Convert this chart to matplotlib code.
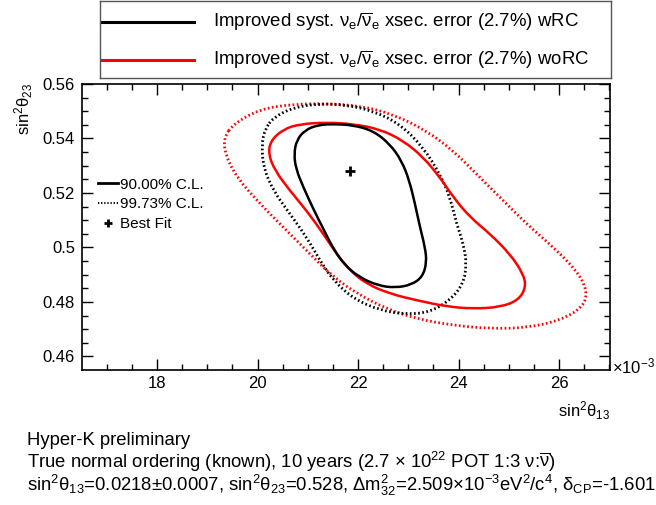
import numpy as np
import matplotlib
matplotlib.use("Agg")
import matplotlib.pyplot as plt
from matplotlib.lines import Line2D
from matplotlib.path import Path
from matplotlib.patches import PathPatch
from matplotlib.ticker import MultipleLocator, FuncFormatter

plt.rcParams["font.family"] = ["Liberation Sans", "DejaVu Sans"]
plt.rcParams["mathtext.fontset"] = "custom"
plt.rcParams["mathtext.rm"] = "Liberation Sans"
plt.rcParams["mathtext.it"] = "Liberation Sans"
plt.rcParams["mathtext.bf"] = "Liberation Sans:bold"

# sin^2(theta13) in units of 1e-3, sin^2(theta23)
wrc90_x = [21.509, 21.907, 22.305, 22.637, 22.869, 23.022, 23.134, 23.234, 23.333,
           23.367, 23.287, 23.068, 22.736, 22.405, 22.040, 21.741, 21.509, 21.310,
           21.111, 20.912, 20.766, 20.726, 20.779, 20.945, 21.211]
wrc90_y = [0.5453, 0.5449, 0.5428, 0.5379, 0.5318, 0.5245, 0.5160, 0.5074, 0.5001,
           0.4946, 0.4893, 0.4863, 0.4852, 0.4860, 0.4889, 0.4934, 0.4995, 0.5068,
           0.5141, 0.5221, 0.5288, 0.5343, 0.5394, 0.5431, 0.5450]

worc90_x = [20.514, 20.846, 21.376, 21.907, 22.438, 22.902, 23.300, 23.632, 23.897,
            24.229, 24.627, 25.025, 25.290, 25.343, 25.191, 24.826, 24.295, 23.764,
            23.167, 22.637, 22.172, 21.841, 21.575, 21.310, 20.978, 20.647, 20.348,
            20.216, 20.262]
worc90_y = [0.5434, 0.5453, 0.5459, 0.5453, 0.5434, 0.5392, 0.5331, 0.5257, 0.5184,
            0.5111, 0.5050, 0.4976, 0.4903, 0.4854, 0.4806, 0.4781, 0.4775, 0.4783,
            0.4806, 0.4830, 0.4866, 0.4915, 0.4976, 0.5050, 0.5135, 0.5208, 0.5282,
            0.5343, 0.5392]

wrc997_x = [20.315, 20.713, 21.244, 21.774, 22.305, 22.836, 23.300, 23.632, 23.831,
            23.964, 24.096, 24.163, 24.096, 23.831, 23.433, 22.968, 22.438, 21.907,
            21.509, 21.244, 20.978, 20.647, 20.315, 20.116, 20.083, 20.149]
wrc997_y = [0.5477, 0.5514, 0.5528, 0.5523, 0.5501, 0.5453, 0.5367, 0.5269, 0.5184,
            0.5086, 0.5013, 0.4940, 0.4866, 0.4806, 0.4763, 0.4754, 0.4769, 0.4812,
            0.4879, 0.4952, 0.5037, 0.5123, 0.5208, 0.5294, 0.5379, 0.5434]

worc997_x = [19.519, 20.050, 20.713, 21.376, 22.040, 22.703, 23.366, 23.897, 24.361,
             24.826, 25.357, 25.887, 26.352, 26.564, 26.484, 26.020, 25.357, 24.627,
             23.897, 23.167, 22.571, 22.040, 21.509, 21.045, 20.580, 20.050, 19.586,
             19.353, 19.333]
worc997_y = [0.5453, 0.5508, 0.5526, 0.5528, 0.5520, 0.5489, 0.5428, 0.5355, 0.5269,
             0.5184, 0.5086, 0.5001, 0.4915, 0.4842, 0.4781, 0.4732, 0.4705, 0.4702,
             0.4714, 0.4738, 0.4775, 0.4824, 0.4891, 0.4976, 0.5062, 0.5160, 0.5257,
             0.5343, 0.5404]

best_x = 21.85
best_y = 0.528

DOT = (0, (0.6, 0.9))


def smooth_loop(ax, xs, ys, **kw):
    # closed quadratic bezier path, read points used as control points
    p = np.column_stack([xs, ys])
    mids = (p + np.roll(p, -1, axis=0)) / 2
    verts = [mids[-1]]
    codes = [Path.MOVETO]
    for i in range(len(p)):
        verts += [p[i], mids[i]]
        codes += [Path.CURVE3, Path.CURVE3]
    ax.add_patch(PathPatch(Path(verts, codes), fill=False, **kw))


fig = plt.figure(figsize=(6.56, 5.05), dpi=100)
W, H = 656.0, 505.0

# main frame
ax = fig.add_axes([82 / W, 1 - 369.5 / H, 528 / W, 285.5 / H])
smooth_loop(ax, worc997_x, worc997_y, edgecolor="#ff0000", lw=2.0, ls=DOT)
smooth_loop(ax, wrc997_x, wrc997_y, edgecolor="black", lw=2.0, ls=DOT)
smooth_loop(ax, worc90_x, worc90_y, edgecolor="#ff0000", lw=1.8)
smooth_loop(ax, wrc90_x, wrc90_y, edgecolor="black", lw=1.8)
ax.plot([best_x], [best_y], marker="+", color="black", ms=7, mew=2, ls="none")

ax.set_xlim(16.507, 27.015)
ax.set_ylim(0.4552, 0.5600)
ax.xaxis.set_major_locator(MultipleLocator(2))
ax.xaxis.set_minor_locator(MultipleLocator(0.5))
ax.yaxis.set_major_locator(MultipleLocator(0.02))
ax.yaxis.set_minor_locator(MultipleLocator(0.005))
ax.yaxis.set_major_formatter(FuncFormatter(lambda v, p: "%g" % round(v, 3)))
ax.xaxis.set_major_formatter(FuncFormatter(lambda v, p: "%g" % v))
ax.tick_params(which="both", direction="in", top=True, right=True, width=1.0,
               labelsize=12)
ax.tick_params(which="major", length=8, pad=5)
ax.tick_params(which="minor", length=4)
for s in ax.spines.values():
    s.set_linewidth(1.2)

handles = [Line2D([], [], color="black", lw=2),
           Line2D([], [], color="black", lw=1.5, ls=DOT),
           Line2D([], [], color="black", marker="+", ms=6, mew=2, ls="none")]
ax.legend(handles, ["90.00% C.L.", "99.73% C.L.", "Best Fit"], loc="upper left",
          bbox_to_anchor=(0.03, 0.672), frameon=False, fontsize=11,
          handlelength=1.3, handletextpad=0.15, labelspacing=0.38, borderpad=0,
          borderaxespad=0)

# axis titles
fig.text(610 / W, 1 - 417 / H, r"sin$^{2}$θ$_{13}$", ha="right", va="baseline", fontsize=12)
fig.text(24 / W, 1 - 83 / H, r"sin$^{2}$θ$_{23}$", ha="center", va="top",
         rotation=90, fontsize=12)
fig.text(612 / W, 1 - 366 / H, r"$\times$10$^{-3}$", ha="left", va="center", fontsize=12)

# top legend box
lax = fig.add_axes([100 / W, 1 - 78 / H, 511 / W, 77 / H])
lax.set_xlim(0, 511)
lax.set_ylim(77, 0)
lax.set_xticks([])
lax.set_yticks([])
for s in lax.spines.values():
    s.set_linewidth(1.0)
    s.set_color("#555555")
labels_top = [r"Improved syst. ν$_{e}$/$\overline{\nu}_{e}$ xsec. error (2.7%) wRC",
              r"Improved syst. ν$_{e}$/$\overline{\nu}_{e}$ xsec. error (2.7%) woRC"]
colors_top = ["black", "#ff0000"]
for i, (lab, c) in enumerate(zip(labels_top, colors_top)):
    yy = 21 + 38 * i
    lax.add_line(Line2D([2, 94], [yy, yy], color=c, lw=2.2))
    lax.text(113, yy, lab, ha="left", va="center", fontsize=13.4)

# bottom notes
notes = ["Hyper-K preliminary",
         r"True normal ordering (known), 10 years (2.7 $\times$ 10$^{22}$ POT 1:3 ν:$\overline{\nu}$)",
         r"sin$^{2}$θ$_{13}$=0.0218$\pm$0.0007, sin$^{2}$θ$_{23}$=0.528, Δm$^{2}_{32}$=2.509$\times$10$^{-3}$eV$^{2}$/c$^{4}$, δ$_{CP}$=-1.601"]
for i, t in enumerate(notes):
    fig.text(27 / W, 1 - (445 + 23 * i) / H, t, ha="left", va="baseline", fontsize=13.3)

fig.savefig("out.png", dpi=100)
